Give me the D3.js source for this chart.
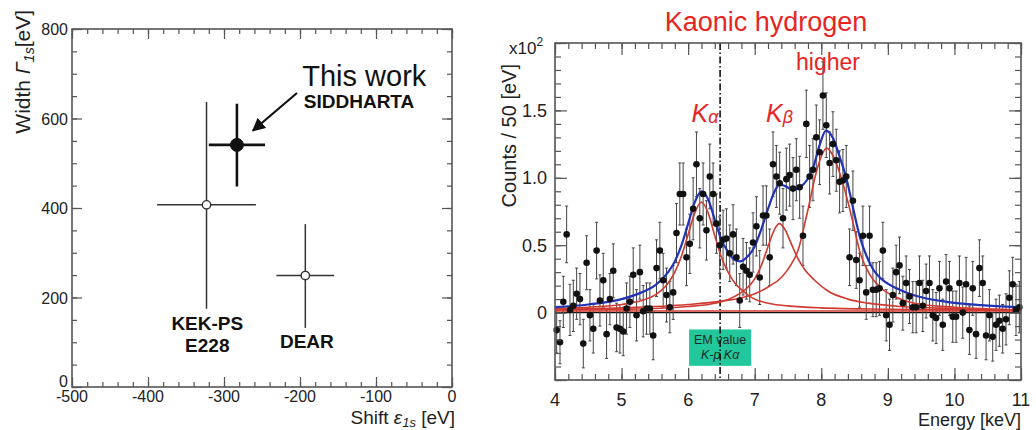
<!DOCTYPE html>
<html>
<head>
<meta charset="utf-8">
<script src="https://cdn.jsdelivr.net/npm/d3@7"></script>
<style>
  body { margin: 0; background: #fff; }
  svg { display: block; }
  text { font-family: "Liberation Sans", Arial, Helvetica, sans-serif; }
</style>
</head>
<body>
<svg id="chart" width="1036" height="430"></svg>
<script>
// ---------- left panel: shift / width of kaonic hydrogen 1s ----------
const expNames   = ["SIDDHARTA", "KEK-PS", "DEAR"];
const shiftVals  = [-283, -323, -193];
const shiftErrs  = [37, 65, 38];
const widthVals  = [541, 407, 249];
const widthErrLo = [93, 232, 117];
const widthErrHi = [92, 230, 115];
const leftXTicks = [-500, -400, -300, -200, -100, 0];
const leftYTicks = [0, 200, 400, 600, 800];

// ---------- right panel: x-ray spectrum (counts / 50 eV, x10^2) ----------
const counts = [
  -0.13,-0.22,0.08,0.58,0.02,0.05,0.14,0.10,-0.23,0.37,-0.02,-0.12,0.46,0.09,0.24,-0.16,0.10,0.31,-0.11,-0.12,
  -0.14,0.03,0.08,0.28,-0.02,0.30,0.01,0.03,0.03,-0.17,0.33,0.46,0.24,0.13,0.04,0.15,0.59,0.88,0.88,0.41,
  0.51,0.77,1.10,0.70,0.88,0.61,1.01,0.88,0.66,0.50,0.54,0.55,0.44,0.58,0.41,0.09,0.34,0.31,0.28,0.52,
  0.64,0.26,0.72,0.72,0.41,1.10,1.01,0.96,0.70,0.99,1.02,0.92,1.06,0.93,0.57,1.40,1.01,1.06,1.30,1.19,
  1.61,1.39,1.11,1.25,1.13,0.97,0.98,1.01,0.41,0.83,0.39,0.24,0.57,0.15,0.57,0.17,0.17,0.18,0.46,-0.02,
  -0.09,0.13,0.30,0.35,0.07,0.22,0.12,0.04,0.04,0.22,0.05,0.16,0.22,-0.02,-0.04,0.18,-0.09,0.23,0.18,-0.03,
  -0.03,0.22,0.00,0.21,-0.13,0.18,-0.16,0.33,0.22,-0.17,-0.02,-0.18,-0.09,-0.06,-0.12,-0.05,0.11,0.21,0.02,0.04
];
const countErrs = [
  0.17,0.16,0.19,0.21,0.19,0.19,0.19,0.19,0.18,0.20,0.19,0.18,0.21,0.19,0.20,0.18,0.19,0.20,0.18,0.18,
  0.18,0.19,0.19,0.20,0.19,0.20,0.19,0.19,0.19,0.18,0.21,0.21,0.20,0.20,0.19,0.20,0.22,0.23,0.23,0.21,
  0.22,0.23,0.24,0.22,0.23,0.22,0.24,0.23,0.22,0.21,0.22,0.22,0.21,0.22,0.21,0.20,0.21,0.21,0.20,0.22,
  0.22,0.20,0.22,0.22,0.21,0.24,0.23,0.23,0.22,0.23,0.23,0.23,0.23,0.23,0.22,0.25,0.23,0.23,0.24,0.24,
  0.25,0.24,0.23,0.24,0.23,0.23,0.23,0.23,0.21,0.22,0.21,0.20,0.22,0.20,0.22,0.20,0.20,0.20,0.21,0.19,
  0.19,0.20,0.20,0.21,0.20,0.20,0.20,0.19,0.19,0.20,0.19,0.20,0.20,0.19,0.19,0.20,0.19,0.20,0.20,0.19,
  0.19,0.20,0.19,0.20,0.18,0.20,0.18,0.21,0.20,0.18,0.19,0.18,0.19,0.19,0.18,0.19,0.20,0.20,0.19,0.19
];
const binCenters = d3.range(counts.length).map(i => 4.025 + 0.05 * i);

// fit curves: [energy keV, counts x10^2]
const fitKa = [[4.0,0.03],[4.5,0.04],[5.0,0.06],[5.3,0.09],[5.5,0.13],[5.7,0.22],[5.8,0.30],[5.9,0.42],
  [6.0,0.58],[6.1,0.74],[6.2,0.82],[6.3,0.74],[6.4,0.57],[6.5,0.41],[6.6,0.30],[6.7,0.22],[6.8,0.17],
  [6.9,0.13],[7.0,0.10],[7.2,0.07],[7.5,0.05],[8.0,0.035],[9.0,0.025],[10.0,0.02],[11.0,0.016]];
const fitKb = [[4.0,0.02],[5.0,0.025],[5.5,0.03],[6.0,0.045],[6.3,0.06],[6.5,0.08],[6.7,0.12],[6.9,0.19],
  [7.0,0.25],[7.1,0.35],[7.2,0.49],[7.3,0.62],[7.37,0.66],[7.45,0.62],[7.55,0.51],[7.65,0.40],[7.75,0.32],
  [7.9,0.24],[8.1,0.16],[8.4,0.10],[8.7,0.07],[9.2,0.045],[10.0,0.03],[11.0,0.018]];
const fitHigher = [[4.0,0.025],[5.0,0.035],[6.0,0.06],[6.5,0.085],[6.8,0.11],[7.0,0.14],[7.2,0.19],[7.4,0.26],
  [7.55,0.36],[7.65,0.46],[7.78,0.72],[7.93,1.05],[8.0,1.16],[8.08,1.22],[8.18,1.16],[8.28,1.03],[8.38,0.86],
  [8.48,0.66],[8.58,0.45],[8.73,0.28],[8.88,0.19],[9.1,0.12],[9.4,0.07],[10.0,0.04],[11.0,0.022]];
const fitTotal = [[4.0,0.04],[4.5,0.06],[5.0,0.10],[5.3,0.15],[5.5,0.20],[5.7,0.30],[5.8,0.38],[5.9,0.50],
  [6.0,0.66],[6.1,0.82],[6.2,0.90],[6.3,0.84],[6.4,0.69],[6.5,0.54],[6.6,0.45],[6.7,0.39],[6.78,0.38],
  [6.9,0.42],[7.0,0.49],[7.1,0.62],[7.2,0.77],[7.3,0.90],[7.37,0.95],[7.45,0.94],[7.58,0.91],[7.68,0.93],
  [7.78,0.98],[7.88,1.08],[7.98,1.25],[8.07,1.35],[8.18,1.29],[8.28,1.15],[8.38,0.99],[8.48,0.77],
  [8.58,0.56],[8.68,0.42],[8.78,0.32],[8.88,0.26],[9.13,0.18],[9.38,0.13],[9.88,0.08],[10.4,0.055],[11.0,0.04]];
const fitBackground = [[4.0,0.012],[11.0,0.012]];
const emValue = 6.48;
const rightXTicks = [4, 5, 6, 7, 8, 9, 10, 11];
const rightYTicks = [0, 0.5, 1.0, 1.5];

const svg = d3.select("#chart");
const frameColor = "#555";
const labelColor = "#222";

// draw a ROOT-like frame with ticks pointing inward on all four sides
function drawFrame(g, x, y, xMinor, xMajor, yMinor, yMajor, minLen, majLen) {
  const [x0, x1] = x.range();
  const [y0, y1] = y.range();
  const sides = [
    [d3.axisBottom(x), `translate(0,${y0})`, xMinor, xMajor],
    [d3.axisTop(x), `translate(0,${y1})`, xMinor, xMajor],
    [d3.axisLeft(y), `translate(${x0},0)`, yMinor, yMajor],
    [d3.axisRight(y), `translate(${x1},0)`, yMinor, yMajor]
  ];
  sides.forEach(([ax, tr, mi, ma]) => {
    [[mi, minLen], [ma, majLen]].forEach(([vals, len]) => {
      const a = g.append("g").attr("transform", tr)
        .call(ax.tickValues(vals).tickSize(-len).tickFormat(""));
      a.select(".domain").remove();
      a.selectAll("line").attr("stroke", frameColor).attr("stroke-width", 1.2);
    });
  });
  g.append("rect").attr("x", x0).attr("y", y1)
    .attr("width", x1 - x0).attr("height", y0 - y1)
    .attr("fill", "none").attr("stroke", frameColor).attr("stroke-width", 1.6);
}

// ================= LEFT PANEL =================
const xL = d3.scaleLinear().domain([-500, 0]).range([72, 452]);
const yL = d3.scaleLinear().domain([0, 800]).range([387, 29]);
const gL = svg.append("g");

drawFrame(gL, xL, yL, d3.range(-500, 1, 20), leftXTicks, d3.range(0, 801, 50), leftYTicks, 5, 10);

gL.selectAll(".xlab").data(leftXTicks).join("text")
  .attr("x", d => xL(d)).attr("y", 402)
  .attr("text-anchor", "middle").attr("font-size", 16).attr("fill", labelColor)
  .text(d => d);
gL.selectAll(".ylab").data(leftYTicks).join("text")
  .attr("x", 68).attr("y", d => d === 0 ? 387 : yL(d) + 6)
  .attr("text-anchor", "end").attr("font-size", 16).attr("fill", labelColor)
  .text(d => d);

const yTitleL = gL.append("text")
  .attr("transform", "translate(30,10) rotate(-90)")
  .attr("text-anchor", "end").attr("font-size", 21).attr("fill", labelColor);
yTitleL.append("tspan").text("Width ");
yTitleL.append("tspan").attr("font-style", "italic").text("Γ");
yTitleL.append("tspan").attr("font-style", "italic").attr("font-size", 14).attr("dy", 4).text("1s");
yTitleL.append("tspan").attr("dy", -4).text("[eV]");

const xTitleL = gL.append("text").attr("x", 455).attr("y", 424)
  .attr("text-anchor", "end").attr("font-size", 19).attr("fill", labelColor);
xTitleL.append("tspan").text("Shift ");
xTitleL.append("tspan").attr("font-style", "italic").text("ε");
xTitleL.append("tspan").attr("font-style", "italic").attr("font-size", 13).attr("dy", 3).text("1s");
xTitleL.append("tspan").attr("dy", -3).text(" [eV]");

const expData = expNames.map((n, i) => ({
  name: n, x: shiftVals[i], xe: shiftErrs[i], y: widthVals[i], ylo: widthErrLo[i], yhi: widthErrHi[i]
}));
expData.forEach((d, i) => {
  const main = i === 0;
  const col = main ? "#111" : "#333";
  const sw = main ? 2.6 : 1.5;
  gL.append("line").attr("x1", xL(d.x - d.xe)).attr("x2", xL(d.x + d.xe))
    .attr("y1", yL(d.y)).attr("y2", yL(d.y)).attr("stroke", col).attr("stroke-width", sw);
  gL.append("line").attr("x1", xL(d.x)).attr("x2", xL(d.x))
    .attr("y1", yL(d.y - d.ylo)).attr("y2", yL(d.y + d.yhi)).attr("stroke", col).attr("stroke-width", sw);
  gL.append("circle").attr("cx", xL(d.x)).attr("cy", yL(d.y))
    .attr("r", main ? 6.5 : 4.2)
    .attr("fill", main ? "#111" : "#fff")
    .attr("stroke", col).attr("stroke-width", main ? 1 : 1.4);
});

// annotations
gL.append("text").attr("x", xL(-197)).attr("y", yL(673))
  .attr("font-size", 29).attr("fill", "#111").text("This work");
gL.append("text").attr("x", xL(-195)).attr("y", yL(623))
  .attr("font-size", 19).attr("font-weight", "bold").attr("fill", "#111")
  .text("SIDDHARTA");
gL.append("text").attr("x", xL(-322)).attr("y", yL(127))
  .attr("text-anchor", "middle").attr("font-size", 19).attr("font-weight", "bold").attr("fill", "#111")
  .text("KEK-PS");
gL.append("text").attr("x", xL(-322)).attr("y", yL(78))
  .attr("text-anchor", "middle").attr("font-size", 19).attr("font-weight", "bold").attr("fill", "#111")
  .text("E228");
gL.append("text").attr("x", xL(-191)).attr("y", yL(87))
  .attr("text-anchor", "middle").attr("font-size", 19).attr("font-weight", "bold").attr("fill", "#111")
  .text("DEAR");

svg.append("defs").append("marker")
  .attr("id", "arrowhead").attr("viewBox", "0 0 10 10")
  .attr("refX", 9).attr("refY", 5)
  .attr("markerWidth", 6).attr("markerHeight", 6)
  .attr("markerUnits", "strokeWidth")
  .attr("orient", "auto")
  .append("path").attr("d", "M0,0 L10,5 L0,10 z").attr("fill", "#111");
gL.append("line")
  .attr("x1", xL(-204)).attr("y1", yL(657))
  .attr("x2", xL(-262)).attr("y2", yL(573))
  .attr("stroke", "#111").attr("stroke-width", 2.2)
  .attr("marker-end", "url(#arrowhead)");

// ================= RIGHT PANEL =================
const xR = d3.scaleLinear().domain([4, 11]).range([555, 1021]);
const yR = d3.scaleLinear().domain([-0.5, 2.0]).range([380, 43]);
const gR = svg.append("g");

// green EM value box (behind the dash-dot line)
const boxW = 62, boxTop = yR(-0.125), boxBot = yR(-0.395);
gR.append("rect").attr("x", xR(emValue) - boxW / 2).attr("y", boxTop)
  .attr("width", boxW).attr("height", boxBot - boxTop).attr("fill", "#22c79c");
gR.append("text").attr("x", xR(emValue)).attr("y", boxTop + 15)
  .attr("text-anchor", "middle").attr("font-size", 12.5).attr("fill", "#1d2b26").text("EM value");
gR.append("text").attr("x", xR(emValue)).attr("y", boxTop + 30)
  .attr("text-anchor", "middle").attr("font-size", 12.5).attr("font-style", "italic")
  .attr("fill", "#1d2b26").text("K-p Kα");

// zero line
gR.append("line").attr("x1", xR(4)).attr("x2", xR(11))
  .attr("y1", yR(0)).attr("y2", yR(0)).attr("stroke", "#111").attr("stroke-width", 1.2);

// EM value dash-dot line
gR.append("line").attr("x1", xR(emValue)).attr("x2", xR(emValue))
  .attr("y1", yR(2.0)).attr("y2", yR(-0.5))
  .attr("stroke", "#111").attr("stroke-width", 1.6)
  .attr("stroke-dasharray", "7,2.5,1.5,2.5");

// data with error bars
const bins = binCenters.map((e, i) => ({ e, v: counts[i], err: countErrs[i] }));
const eb = gR.append("g").attr("stroke", "#444").attr("stroke-width", 1);
eb.selectAll(".bar").data(bins).join("line")
  .attr("x1", d => xR(d.e)).attr("x2", d => xR(d.e))
  .attr("y1", d => yR(Math.max(d.v - d.err, -0.5))).attr("y2", d => yR(Math.min(d.v + d.err, 2.0)));
eb.selectAll(".capTop").data(bins.filter(d => d.v + d.err < 2.0)).join("line")
  .attr("x1", d => xR(d.e) - 1.5).attr("x2", d => xR(d.e) + 1.5)
  .attr("y1", d => yR(d.v + d.err)).attr("y2", d => yR(d.v + d.err));
eb.selectAll(".capBot").data(bins.filter(d => d.v - d.err > -0.5)).join("line")
  .attr("x1", d => xR(d.e) - 1.5).attr("x2", d => xR(d.e) + 1.5)
  .attr("y1", d => yR(d.v - d.err)).attr("y2", d => yR(d.v - d.err));

// fit curves
const line = d3.line().x(d => xR(d[0])).y(d => yR(d[1])).curve(d3.curveMonotoneX);
const redCol = "#d03a30";
[fitBackground, fitKa, fitKb, fitHigher].forEach(c => {
  gR.append("path").datum(c).attr("d", line)
    .attr("fill", "none").attr("stroke", redCol).attr("stroke-width", 1.6);
});
gR.append("path").datum(fitTotal).attr("d", line)
  .attr("fill", "none").attr("stroke", "#2233b5").attr("stroke-width", 2.2);

gR.selectAll(".pt").data(bins).join("circle")
  .attr("cx", d => xR(d.e)).attr("cy", d => yR(d.v)).attr("r", 3.3).attr("fill", "#111");

drawFrame(gR, xR, yR, d3.range(4, 11.01, 0.2), rightXTicks,
  d3.range(-0.5, 2.001, 0.1), [-0.5, 0, 0.5, 1.0, 1.5, 2.0], 6, 12);

gR.selectAll(".xlab").data(rightXTicks).join("text")
  .attr("x", d => xR(d)).attr("y", 406)
  .attr("text-anchor", "middle").attr("font-size", 18).attr("fill", labelColor)
  .text(d => d);
gR.selectAll(".ylab").data(rightYTicks).join("text")
  .attr("x", 547).attr("y", d => yR(d) + 6.5)
  .attr("text-anchor", "end").attr("font-size", 18).attr("fill", labelColor)
  .text(d => d === 0 ? "0" : d3.format(".1f")(d));

const mult = gR.append("text").attr("x", 509).attr("y", 54)
  .attr("font-size", 17).attr("fill", labelColor);
mult.append("tspan").text("x10");
mult.append("tspan").attr("font-size", 12).attr("dy", -8).text("2");

gR.append("text")
  .attr("transform", "translate(516,64) rotate(-90)")
  .attr("text-anchor", "end").attr("font-size", 20).attr("fill", labelColor)
  .text("Counts / 50 [eV]");
gR.append("text").attr("x", 1021).attr("y", 426)
  .attr("text-anchor", "end").attr("font-size", 18).attr("fill", labelColor)
  .text("Energy [keV]");

// red labels
const red = "#e8241f";
gR.append("text").attr("x", 766).attr("y", 31)
  .attr("text-anchor", "middle").attr("font-size", 27).attr("fill", red)
  .text("Kaonic hydrogen");
gR.append("text").attr("x", 828).attr("y", 70)
  .attr("text-anchor", "middle").attr("font-size", 23).attr("fill", red)
  .text("higher");
const ka = gR.append("text").attr("x", xR(6.05)).attr("y", 122)
  .attr("font-size", 25).attr("font-style", "italic").attr("fill", red);
ka.append("tspan").text("K");
ka.append("tspan").attr("font-size", 18).attr("dy", 1).text("α");
const kb = gR.append("text").attr("x", xR(7.17)).attr("y", 122)
  .attr("font-size", 25).attr("font-style", "italic").attr("fill", red);
kb.append("tspan").text("K");
kb.append("tspan").attr("font-size", 18).attr("dy", 1).text("β");
</script>
</body>
</html>
